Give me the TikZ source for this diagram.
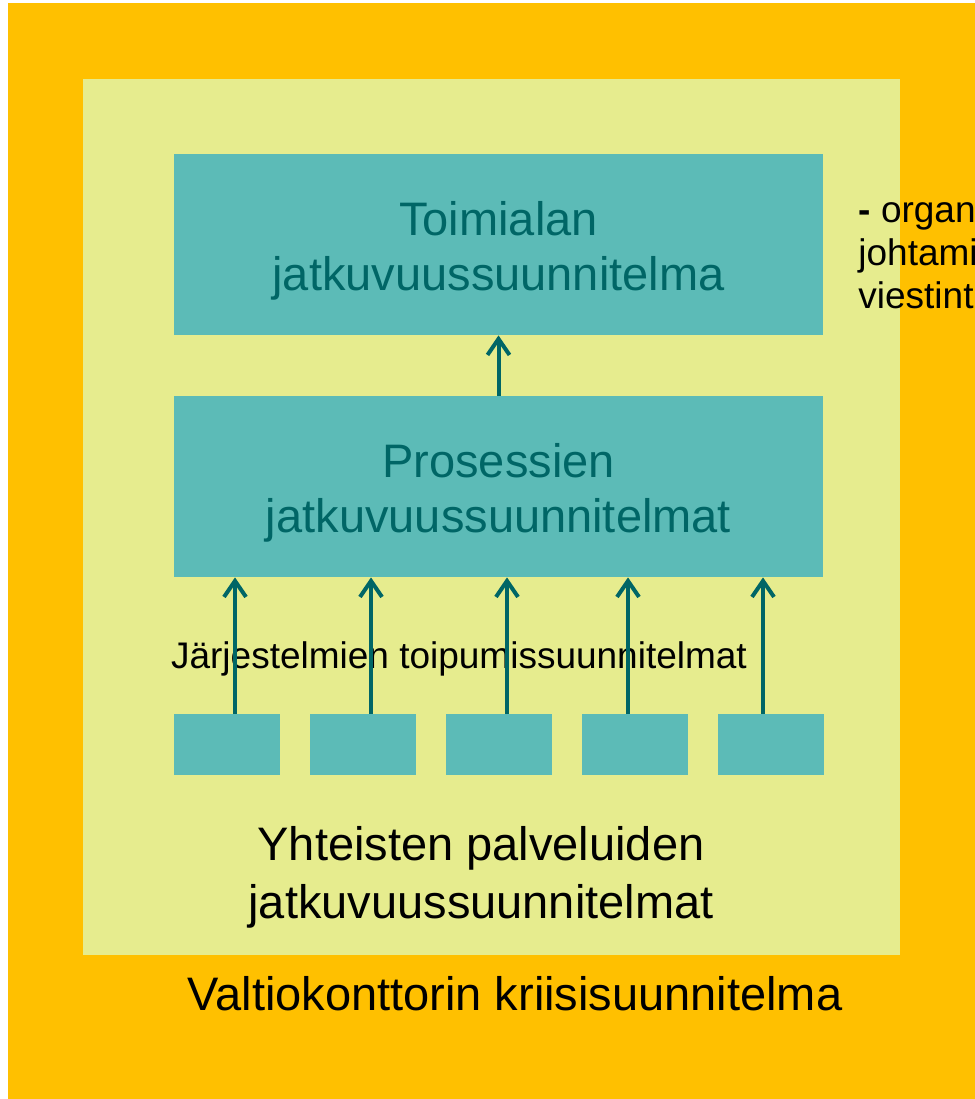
\documentclass[tikz,border=0pt]{standalone}
\usepackage{fontspec}
\setmainfont{Liberation Sans}
\usetikzlibrary{arrows.meta}
\pgfdeclarelayer{background}
\pgfdeclarelayer{edgelayer}
\pgfdeclarelayer{nodelayer}
\pgfsetlayers{background,edgelayer,nodelayer,main}
\definecolor{crisisorange}{RGB}{255,192,0}
\definecolor{unitgreen}{RGB}{230,236,142}
\definecolor{planteal}{RGB}{92,187,183}
\definecolor{darkteal}{RGB}{0,102,102}
\tikzstyle{plan}=[rectangle,fill=planteal,draw=none,inner sep=0pt,text=darkteal,align=center,font=\fontsize{23.5}{27.5}\selectfont]
\tikzstyle{bigplan}=[plan,text height=51pt,minimum width=324.5pt,minimum height=90.5pt]
\tikzstyle{system}=[plan,minimum width=53pt,minimum height=30.5pt]
\tikzstyle{recovery}=[-{Straight Barb[length=8pt,width=11pt]},draw=darkteal,line width=2pt,line cap=round,line join=round]
\tikzstyle{caption}=[inner sep=0pt,text=black,align=center,font=\fontsize{23.5}{29}\selectfont]
\tikzstyle{note}=[inner sep=0pt,text=black,align=left,font=\fontsize{18.5}{21.5}\selectfont]

\begin{document}
\begin{tikzpicture}[x=0.5pt,y=-0.5pt]
	\useasboundingbox (0,0) rectangle (975,1099);
	\begin{pgfonlayer}{background}
		\fill [crisisorange] (8,3) rectangle (990,1099);
		\fill [unitgreen] (83,79) rectangle (900,955);
		\node [style=note,anchor=base] (sys) at (459,668) {Järjestelmien toipumissuunnitelmat};
	\end{pgfonlayer}
	\begin{pgfonlayer}{nodelayer}
		\node [style=bigplan] (toim) at (498.5,244.5) {Toimialan\\jatkuvuussuunnitelma};
		\node [style=bigplan] (proc) at (498.5,486.5) {Prosessien\\jatkuvuussuunnitelmat};
		\node [style=system] (s1) at (227,744.5) {};
		\node [style=system] (s2) at (363,744.5) {};
		\node [style=system] (s3) at (499,744.5) {};
		\node [style=system] (s4) at (635,744.5) {};
		\node [style=system] (s5) at (771,744.5) {};
		\node [style=caption,anchor=base] (shared) at (481,918) {Yhteisten palveluiden\\jatkuvuussuunnitelmat};
		\node [style=caption,anchor=base] (crisis) at (515,1010) {Valtiokonttorin kriisisuunnitelma};
		\node [style=note,anchor=base west] (mgmt) at (858,308) {\textbf{-} organ\\johtami\\viestint};
	\end{pgfonlayer}
	\begin{pgfonlayer}{edgelayer}
		\draw [style=recovery] (proc.north) to (toim.south);
		\draw [style=recovery] ([xshift=4pt]s1.north) to ([xshift=4pt]s1.north |- proc.south);
		\draw [style=recovery] ([xshift=4pt]s2.north) to ([xshift=4pt]s2.north |- proc.south);
		\draw [style=recovery] ([xshift=4pt]s3.north) to ([xshift=4pt]s3.north |- proc.south);
		\draw [style=recovery] ([xshift=-3.5pt]s4.north) to ([xshift=-3.5pt]s4.north |- proc.south);
		\draw [style=recovery] ([xshift=-4pt]s5.north) to ([xshift=-4pt]s5.north |- proc.south);
	\end{pgfonlayer}
\end{tikzpicture}
\end{document}
